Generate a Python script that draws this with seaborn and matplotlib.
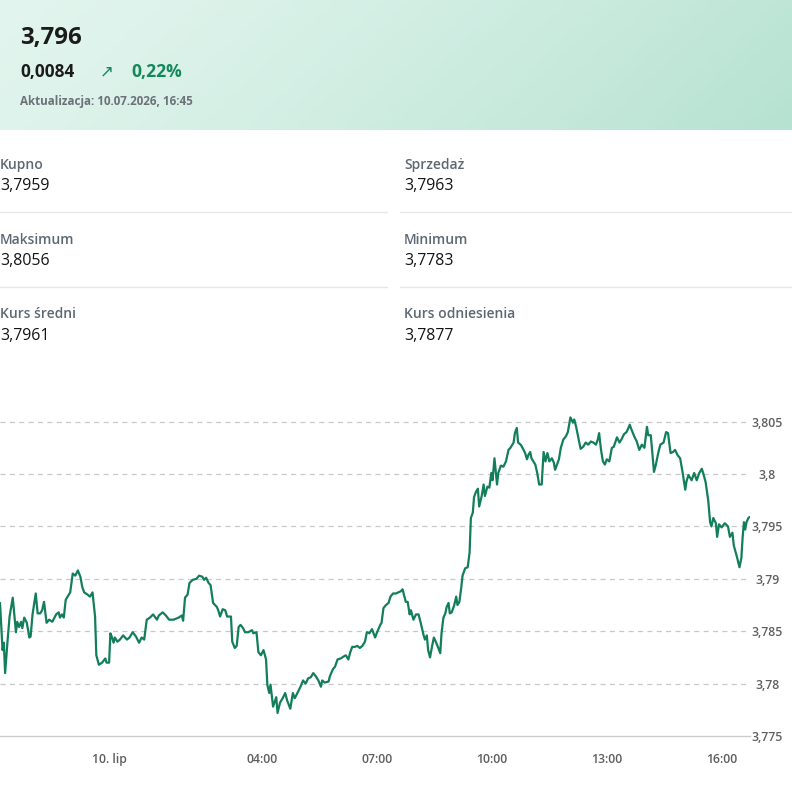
import numpy as np
import pandas as pd
import matplotlib
matplotlib.use("Agg")
import matplotlib.pyplot as plt
from matplotlib.colors import to_rgb
import seaborn as sns

# ---------------- data (minutes from midnight of 10 July, rate) ----------------
night_t = [-171, -167, -165, -163, -159, -156, -151, -146, -144, -141, -138, -136, -133, -129,
           -125, -123, -120, -115, -112, -108, -105, -102, -98, -94, -89, -83, -79, -77, -74,
           -71, -68, -65, -61, -57, -53, -49, -45, -42, -39, -34, -30, -26, -22, -20, -16,
           -11, -6, -4, 0]
night_v = [3.7877, 3.7832, 3.7839, 3.7810, 3.7842, 3.7864, 3.7882, 3.7849, 3.7859, 3.7854,
           3.7859, 3.7853, 3.7863, 3.7858, 3.7844, 3.7845, 3.7866, 3.7886, 3.7867, 3.7867,
           3.7870, 3.7878, 3.7858, 3.7861, 3.7859, 3.7866, 3.7868, 3.7863, 3.7866, 3.7863,
           3.7880, 3.7883, 3.7887, 3.7905, 3.7903, 3.7908, 3.7902, 3.7892, 3.7887, 3.7885,
           3.7883, 3.7887, 3.7864, 3.7827, 3.7818, 3.7820, 3.7824, 3.7820, 3.7820]

early_t = [2, 4, 7, 9, 13, 17, 22, 28, 32, 37, 42, 47, 51, 55, 59, 64, 69, 75, 78, 84, 89,
           94, 101, 109, 114, 116, 119, 123, 126, 131, 137, 141, 146, 149, 152, 156, 159,
           163, 169, 171, 174, 178, 182, 185, 191, 193, 197, 200, 203, 206, 210, 213, 218,
           224, 226, 231, 234, 238]
early_v = [3.7848, 3.7845, 3.7839, 3.7844, 3.7840, 3.7842, 3.7846, 3.7842, 3.7844, 3.7849,
           3.7845, 3.7839, 3.7844, 3.7842, 3.7861, 3.7863, 3.7866, 3.7861, 3.7865, 3.7868,
           3.7865, 3.7861, 3.7861, 3.7863, 3.7865, 3.7860, 3.7882, 3.7885, 3.7896, 3.7899,
           3.7900, 3.7903, 3.7902, 3.7899, 3.7901, 3.7896, 3.7894, 3.7877, 3.7873, 3.7870,
           3.7864, 3.7871, 3.7870, 3.7864, 3.7864, 3.7840, 3.7834, 3.7836, 3.7854, 3.7856,
           3.7853, 3.7849, 3.7849, 3.7851, 3.7848, 3.7849, 3.7830, 3.7827]

morning_t = [242, 246, 248, 251, 253, 257, 262, 264, 268, 272, 276, 279, 284, 288, 291, 296,
             300, 304, 308, 312, 316, 320, 324, 328, 332, 334, 338, 344, 346, 351, 354, 358,
             363, 368, 371, 375, 378, 381, 385, 389, 393, 397, 401, 404, 408, 412, 417, 420,
             425, 427, 430, 434, 438, 441, 445, 450, 453, 457, 460, 462, 465, 468, 471, 473,
             477, 481, 485, 488, 493, 495, 498, 500, 503, 506, 509, 512, 516, 519, 521, 524,
             527, 529, 532, 534, 537, 541, 544, 546, 549, 552, 554, 558, 562, 565]
morning_v = [3.7832, 3.7823, 3.7799, 3.7791, 3.7799, 3.7778, 3.7787, 3.7772, 3.7782, 3.7786,
             3.7791, 3.7784, 3.7776, 3.7791, 3.7786, 3.7792, 3.7797, 3.7803, 3.7800, 3.7805,
             3.7806, 3.7810, 3.7807, 3.7803, 3.7797, 3.7803, 3.7801, 3.7802, 3.7807, 3.7814,
             3.7816, 3.7823, 3.7824, 3.7826, 3.7827, 3.7823, 3.7830, 3.7835, 3.7835, 3.7836,
             3.7834, 3.7836, 3.7840, 3.7849, 3.7848, 3.7852, 3.7844, 3.7849, 3.7856, 3.7858,
             3.7872, 3.7875, 3.7877, 3.7883, 3.7886, 3.7886, 3.7887, 3.7888, 3.7890, 3.7885,
             3.7878, 3.7878, 3.7866, 3.7870, 3.7861, 3.7866, 3.7866, 3.7859, 3.7846, 3.7842,
             3.7846, 3.7832, 3.7825, 3.7835, 3.7844, 3.7840, 3.7834, 3.7829, 3.7848, 3.7863,
             3.7867, 3.7873, 3.7877, 3.7867, 3.7868, 3.7875, 3.7883, 3.7875, 3.7878, 3.7892,
             3.7903, 3.7910, 3.7911, 3.7925]

midday_t = [567, 570, 572, 575, 578, 580, 584, 587, 589, 593, 596, 599, 601, 604, 608, 610,
            614, 618, 622, 626, 629, 634, 636, 639, 641, 645, 648, 652, 655, 657, 660, 662,
            668, 671, 674, 678, 681, 684, 687, 690, 694, 697, 699, 702, 705, 708, 712, 716,
            719, 721, 723, 727, 729, 732, 735, 739, 743, 747, 751, 755, 759, 763, 766, 768,
            771, 774, 777, 780, 784, 788, 791, 796, 800, 803, 807, 811, 814, 816, 819, 823,
            827, 831, 835, 839, 843, 845, 849]
midday_v = [3.7958, 3.7963, 3.7978, 3.7983, 3.7986, 3.7969, 3.7979, 3.7990, 3.7979, 3.7988,
            3.7987, 3.8001, 3.7994, 3.8015, 3.7990, 3.8001, 3.8008, 3.8007, 3.8012, 3.8023,
            3.8025, 3.8030, 3.8039, 3.8044, 3.8030, 3.8028, 3.8025, 3.8020, 3.8014, 3.8018,
            3.8021, 3.8015, 3.8009, 3.8001, 3.7990, 3.7990, 3.8021, 3.8012, 3.8020, 3.8012,
            3.8015, 3.8011, 3.8004, 3.8009, 3.8014, 3.8025, 3.8033, 3.8036, 3.8040, 3.8047,
            3.8054, 3.8049, 3.8052, 3.8045, 3.8036, 3.8024, 3.8026, 3.8030, 3.8028, 3.8031,
            3.8030, 3.8028, 3.8033, 3.8039, 3.8023, 3.8012, 3.8009, 3.8014, 3.8012, 3.8025,
            3.8026, 3.8035, 3.8030, 3.8033, 3.8038, 3.8040, 3.8044, 3.8047, 3.8042, 3.8036,
            3.8031, 3.8023, 3.8028, 3.8025, 3.8045, 3.8037, 3.8037]

late_t = [852, 854, 857, 861, 864, 869, 873, 876, 880, 884, 887, 891, 895, 899, 903, 905,
          908, 913, 917, 921, 925, 929, 932, 935, 939, 942, 944, 947, 951, 953, 956, 960,
          965, 970, 973, 977, 979, 984, 988, 991, 993, 995, 997, 999, 1002, 1004]
late_v = [3.8016, 3.8002, 3.8009, 3.8021, 3.8028, 3.8030, 3.8040, 3.8039, 3.8020, 3.8021,
          3.8023, 3.8018, 3.8015, 3.8001, 3.7985, 3.7993, 3.7999, 3.7994, 3.8001, 3.7994,
          3.8001, 3.8005, 3.7999, 3.7992, 3.7975, 3.7954, 3.7950, 3.7958, 3.7953, 3.7940,
          3.7952, 3.7949, 3.7953, 3.7950, 3.7940, 3.7944, 3.7932, 3.7921, 3.7911, 3.7920,
          3.7940, 3.7954, 3.7947, 3.7954, 3.7958, 3.7959]

x_ticks = [0, 240, 420, 600, 780, 960]
x_labels = ["10. lip", "04:00", "07:00", "10:00", "13:00", "16:00"]
y_ticks = [3.775, 3.78, 3.785, 3.79, 3.795, 3.8, 3.805]
y_labels = ["3,775", "3,78", "3,785", "3,79", "3,795", "3,8", "3,805"]

price = "3,796"
change_abs = "0,0084"
change_pct = "0,22%"
updated = "Aktualizacja: 10.07.2026, 16:45"
stat_names = ["Kupno", "Sprzedaż", "Maksimum", "Minimum", "Kurs średni", "Kurs odniesienia"]
stat_values = ["3,7959", "3,7963", "3,8056", "3,7783", "3,7961", "3,7877"]

# ---------------- style ----------------
sns.set_style("white")
plt.rcParams["font.family"] = ["Open Sans", "DejaVu Sans"]

W, H = 792, 790
fig = plt.figure(figsize=(W / 100, H / 100), dpi=100)
fig.patch.set_facecolor("white")


def fx(x):
    return x / W


def fy(y):
    return 1 - y / H


# header gradient
hdr = fig.add_axes([0, fy(130), 1, 130 / H])
c0 = np.array(to_rgb("#e2f5ee"))
c1 = np.array(to_rgb("#b6e2d1"))
gx, gy = np.meshgrid(np.linspace(0, 1, 200), np.linspace(0, 1, 40))
tt = np.clip(0.85 * gx + 0.15 * gy, 0, 1)[..., None] ** 1.3
hdr.imshow(c0 * (1 - tt) + c1 * tt, aspect="auto", extent=[0, 1, 0, 1], origin="upper")
hdr.set_axis_off()

green = "#13885b"
fig.text(fx(20), fy(38), price, fontsize=17.3, fontweight="bold", color="#1b1b1b", va="center")
fig.text(fx(20), fy(72), change_abs, fontsize=12.3, fontweight="bold", color="#1b1b1b", va="center")
fig.text(fx(107), fy(71), "↗", fontsize=12, color=green, va="center", ha="center",
         family=["DejaVu Sans"])
fig.text(fx(131), fy(72), change_pct, fontsize=12.6, fontweight="bold", color=green, va="center")
fig.text(fx(20), fy(102), updated, fontsize=8.4, fontweight="bold", color="#6b7177", va="center")

# stats grid
label_y = [164.5, 239.5, 314.5]
for i, (name, val) in enumerate(zip(stat_names, stat_values)):
    row, col = divmod(i, 2)
    x0 = 0 if col == 0 else 404
    fig.text(fx(x0), fy(label_y[row]), name, fontsize=10.0, fontweight="semibold",
             color="#5d6873", va="center")
    fig.text(fx(x0), fy(label_y[row] + 21.5), val, fontsize=11.4, fontweight="medium",
             color="#141414", va="center")
for ysep in [212, 287]:
    fig.add_artist(plt.Line2D([fx(0), fx(387)], [fy(ysep), fy(ysep)], color="#e6e6e6", lw=1))
    fig.add_artist(plt.Line2D([fx(400), fx(792)], [fy(ysep), fy(ysep)], color="#e6e6e6", lw=1))

# ---------------- chart ----------------
df = pd.DataFrame({
    "t": night_t + early_t + morning_t + midday_t + late_t,
    "rate": night_v + early_v + morning_v + midday_v + late_v,
})

ax = fig.add_axes([0, fy(736), fx(750), (736 - 400) / H])
sns.lineplot(data=df, x="t", y="rate", ax=ax, color="#127f59", lw=1.6, estimator=None, sort=False)
ax.set_xlim(-171, 1004.5)
ax.set_ylim(3.775, 3.775 + 336 * 0.005 / 52.4)
ax.set_xlabel("")
ax.set_ylabel("")
ax.set_facecolor("none")

for s in ["top", "left", "right"]:
    ax.spines[s].set_visible(False)
ax.spines["bottom"].set_color("#cccccc")
ax.spines["bottom"].set_linewidth(1)

ax.set_xticks(x_ticks)
ax.set_xticklabels(x_labels)
ax.tick_params(axis="x", length=6.5, width=0.8, color="#cccccc", pad=6,
               labelsize=8.8, labelcolor="#5f5f5f")
for lab in ax.get_xticklabels():
    lab.set_fontweight("semibold")

ax.yaxis.tick_right()
ax.set_yticks(y_ticks)
ax.set_yticklabels(y_labels)
ax.tick_params(axis="y", length=0, pad=12.5, labelsize=8.8, labelcolor="#5f5f5f")
for lab in ax.get_yticklabels():
    lab.set_horizontalalignment("center")
    lab.set_fontweight("semibold")

for v in y_ticks[1:]:
    ax.axhline(v, color="#c8c8c8", lw=0.9, ls=(0, (4, 3.5)), zorder=0)

fig.savefig("out.png", dpi=100)
